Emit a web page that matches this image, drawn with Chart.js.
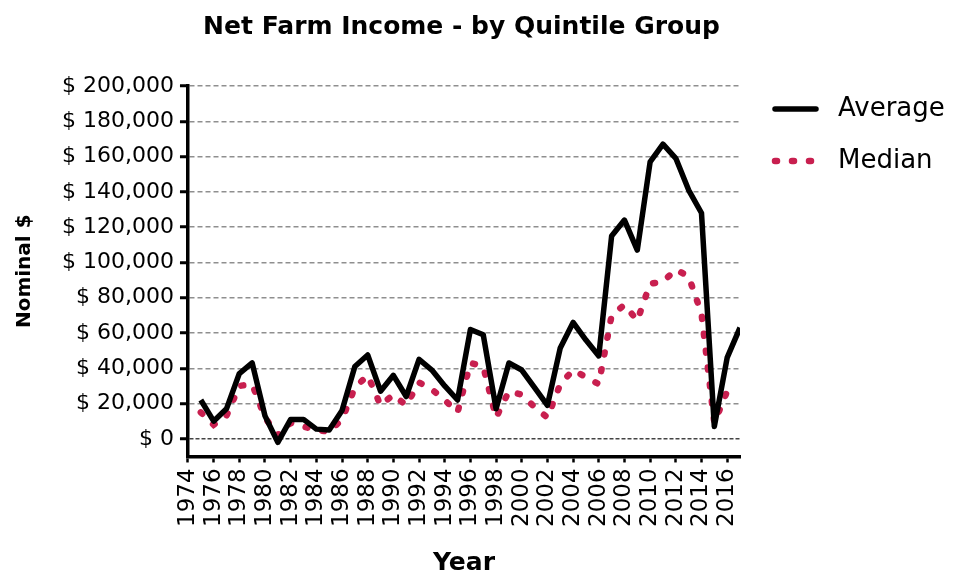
<!DOCTYPE html>
<html>
<head>
<meta charset="utf-8">
<script src="https://cdn.jsdelivr.net/npm/chart.js@4.4.1/dist/chart.umd.min.js"></script>
<style>
  html, body { margin: 0; padding: 0; background: #fff; }
  #wrap { width: 953px; height: 573px; }
</style>
</head>
<body>
<div id="wrap"><canvas id="chart"></canvas></div>
<script>
// values (nominal $)
const years = [1975, 1976, 1977, 1978, 1979, 1980, 1981, 1982, 1983, 1984,
  1985, 1986, 1987, 1988, 1989, 1990, 1991, 1992, 1993, 1994,
  1995, 1996, 1997, 1998, 1999, 2000, 2001, 2002, 2003, 2004,
  2005, 2006, 2007, 2008, 2009, 2010, 2011, 2012, 2013, 2014,
  2015, 2016, 2017];
const averageIncome = [22000, 10000, 17000, 37000, 43000, 13000, -2000, 11000, 11000, 5500,
  5000, 16000, 41000, 47500, 27000, 36000, 24000, 45000, 39000, 30000,
  22000, 62000, 59000, 17000, 43000, 39000, 29000, 19000, 51500, 66000,
  56000, 47000, 115000, 124000, 107000, 157000, 167000, 159000, 141000, 128000,
  7000, 46000, 63000];
// median series stops at 2016
const medianIncome = [15000, 8000, 13000, 30000, 31000, 12000, 2000, 9000, 7000, 5000,
  4000, 11000, 29000, 36000, 19000, 25000, 19000, 32000, 28000, 22000,
  15000, 43000, 41000, 12000, 27000, 25000, 18000, 12000, 31000, 39000,
  35000, 31000, 70000, 76000, 67000, 88000, 89000, 96000, 92000, 71000,
  9000, 27000];
const xTicks = [1974, 1976, 1978, 1980, 1982, 1984, 1986, 1988, 1990, 1992, 1994,
  1996, 1998, 2000, 2002, 2004, 2006, 2008, 2010, 2012, 2014, 2016];
const yTicks = [0, 20000, 40000, 60000, 80000, 100000, 120000, 140000, 160000, 180000, 200000];

Chart.defaults.font.family = '"DejaVu Sans", sans-serif';
Chart.defaults.color = '#000';

// legend drawn to the right of the plot, like the original
const sideLegend = {
  id: 'sideLegend',
  afterDraw(chart) {
    const ctx = chart.ctx;
    const x0 = chart.chartArea.right + 35;
    const y0 = chart.chartArea.top + 23;
    ctx.save();
    chart.data.datasets.forEach((ds, i) => {
      const y = y0 + i * 52;
      ctx.beginPath();
      ctx.strokeStyle = ds.borderColor;
      ctx.lineWidth = ds.borderWidth;
      ctx.lineCap = 'round';
      ctx.setLineDash(ds.borderDash || []);
      ctx.moveTo(x0, y);
      ctx.lineTo(x0 + 41, y);
      ctx.stroke();
      ctx.setLineDash([]);
      ctx.fillStyle = '#000';
      ctx.font = '26px "DejaVu Sans"';
      ctx.textBaseline = 'middle';
      ctx.fillText(ds.label, x0 + 63, y);
    });
    ctx.restore();
  }
};

new Chart(document.getElementById('chart'), {
  type: 'line',
  data: {
    datasets: [
      {
        label: 'Average',
        data: years.map((yr, i) => ({ x: yr, y: averageIncome[i] })),
        borderColor: '#000',
        borderWidth: 5.5,
        borderJoinStyle: 'round',
        pointRadius: 0,
        tension: 0
      },
      {
        label: 'Median',
        data: medianIncome.map((v, i) => ({ x: years[i], y: v })),
        borderColor: '#c81f4f',
        borderWidth: 6.5,
        borderDash: [2, 15],
        borderCapStyle: 'round',
        pointRadius: 0,
        tension: 0
      }
    ]
  },
  options: {
    responsive: true,
    maintainAspectRatio: false,
    animation: false,
    devicePixelRatio: 1,
    layout: { padding: { left: 13, right: 43, top: 0, bottom: 0 } },
    plugins: {
      legend: { display: false },
      tooltip: { enabled: false },
      title: {
        display: true,
        text: 'Net Farm Income - by Quintile Group',
        color: '#000',
        font: { size: 25, weight: 'bold' },
        padding: { top: 12, bottom: 44 }
      }
    },
    scales: {
      x: {
        type: 'linear',
        min: 1974,
        max: 2017,
        afterBuildTicks: s => { s.ticks = xTicks.map(v => ({ value: v })); },
        ticks: {
          autoSkip: false,
          minRotation: 90,
          maxRotation: 90,
          padding: 6,
          font: { size: 23 },
          callback: v => String(v)
        },
        grid: { drawOnChartArea: false, tickColor: '#000', tickWidth: 2.5, tickLength: 6 },
        border: { color: '#000', width: 3.5 },
        title: {
          display: true,
          text: 'Year',
          color: '#000',
          font: { size: 25, weight: 'bold', lineHeight: 0.8 },
          padding: { top: 20, bottom: 0 }
        }
      },
      y: {
        min: -10000,
        max: 200000,
        afterBuildTicks: s => { s.ticks = yTicks.map(v => ({ value: v })); },
        ticks: {
          padding: 6,
          font: { size: 22 },
          callback: v => '$ ' + v.toLocaleString('en-US')
        },
        grid: {
          color: c => (c.tick && c.tick.value === 0) ? '#444' : '#8f8f8f',
          lineWidth: 1.5,
          tickColor: '#000',
          tickWidth: 3,
          tickLength: 8,
          tickBorderDash: []
        },
        border: {
          color: '#000',
          width: 3.5,
          dash: c => (c.tick && c.tick.value === 0) ? [4, 2] : [5, 3]
        },
        title: {
          display: true,
          text: 'Nominal $',
          color: '#000',
          font: { size: 20, weight: 'bold' },
          padding: { top: 0, bottom: 19 }
        }
      },
      // empty right-hand axis that only reserves room for the legend
      legendSpace: {
        position: 'right',
        display: true,
        grid: { display: false, drawTicks: false },
        border: { display: false },
        ticks: { display: false },
        afterFit: s => { s.width = 170; }
      }
    }
  },
  plugins: [sideLegend]
});
</script>
</body>
</html>
